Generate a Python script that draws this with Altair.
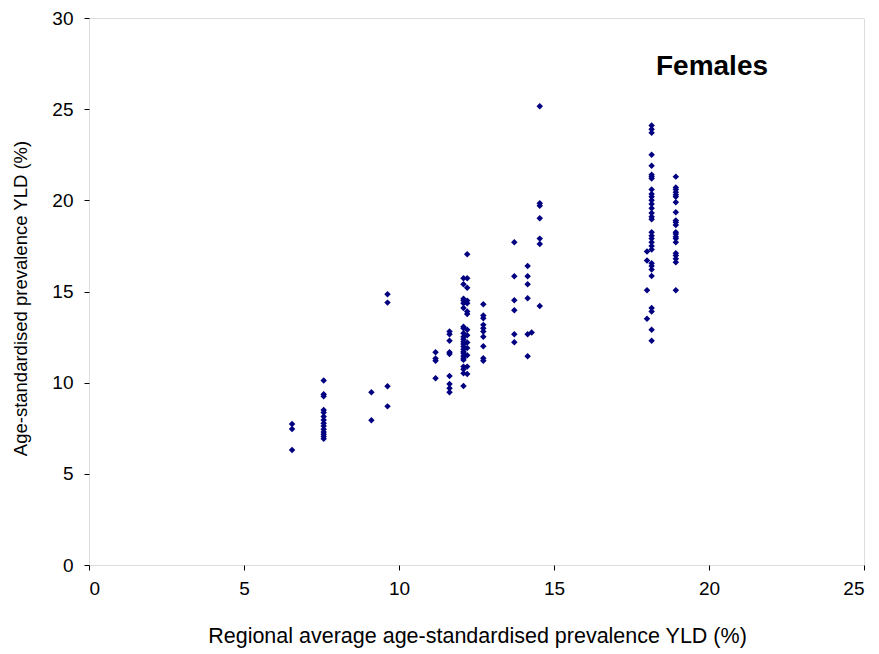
import altair as alt
import pandas as pd

# Regional average (x) for each column of countries, with their values (y)
col_x = [6.55, 7.57, 9.11, 9.63, 11.18, 11.63, 12.08, 12.20, 12.72, 13.72, 14.15, 14.28, 14.54, 18.00, 18.15, 18.93]
col_y = [
    [7.73, 7.46, 6.31],
    [10.12, 9.36, 9.25, 8.50, 8.36, 8.14, 7.95, 7.78, 7.62, 7.45, 7.30, 7.17, 7.05, 6.93],
    [9.47, 7.94],
    [14.85, 14.39, 9.80, 8.70],
    [11.67, 11.32, 11.20, 10.24],
    [12.80, 12.65, 12.30, 11.67, 11.57, 10.37, 9.93, 9.70, 9.47],
    [15.73, 15.40, 14.60, 14.50, 14.35, 14.10, 13.07, 12.98, 12.71, 12.52, 12.38, 12.25,
     12.12, 11.98, 11.83, 11.70, 11.61, 11.46, 11.34, 11.25, 10.88, 10.74, 10.52, 9.82],
    [17.04, 15.73, 15.20, 14.50, 14.35, 13.90, 13.77, 12.90, 12.60, 12.20, 11.90, 11.50, 10.88, 10.48],
    [14.30, 13.68, 13.53, 13.17, 12.98, 12.80, 12.52, 12.00, 11.34, 11.20],
    [17.70, 15.84, 14.52, 13.97, 12.66, 12.22],
    [16.40, 15.84, 15.40, 14.63, 12.66, 11.45],
    [12.75],
    [25.16, 19.84, 19.70, 19.02, 17.90, 17.60, 14.20],
    [17.20, 16.70, 15.07, 13.50],
    [24.10, 23.90, 23.70, 22.50, 21.90, 21.40, 21.30, 21.20, 20.60, 20.35, 20.20, 20.00,
     19.80, 19.57, 19.30, 19.10, 18.96, 18.25, 18.06, 17.90, 17.70, 17.50, 17.30, 16.55,
     16.40, 16.20, 15.85, 14.10, 13.90, 12.90, 12.30],
    [21.30, 20.70, 20.60, 20.45, 20.30, 20.20, 19.90, 19.35, 18.90, 18.80, 18.65, 18.25,
     18.15, 18.00, 17.90, 17.70, 17.10, 16.97, 16.80, 16.60, 15.07],
]

x_ticks = [0, 5, 10, 15, 20, 25]
y_ticks = [0, 5, 10, 15, 20, 25, 30]
panel_label = "Females"

rows = []
for cx, ys in zip(col_x, col_y):
    for yv in ys:
        rows.append({"x": cx, "y": yv})
df = pd.DataFrame(rows)

W, H = 775, 547
FONT = "Liberation Sans"

points = alt.Chart(df).mark_point(
    shape="diamond", filled=True, size=42, color="#000080", opacity=1
).encode(
    x=alt.X("x:Q", scale=alt.Scale(domain=[0, 25], nice=False, zero=False),
            axis=alt.Axis(values=x_ticks, title="Regional average age-standardised prevalence YLD (%)",
                          grid=False, domain=False, tickColor="black", tickSize=5,
                          labelPadding=9, labelFontSize=19, labelColor="black", labelFont=FONT,
                          titleFont=FONT, titleFontSize=21.5, titleFontWeight="normal", titleColor="black",
                          titleX=388, titleY=71, titleBaseline="middle", titleAlign="center")),
    y=alt.Y("y:Q", scale=alt.Scale(domain=[0, 30], nice=False, zero=False),
            axis=alt.Axis(values=y_ticks, title="Age-standardised prevalence YLD (%)",
                          grid=False, domain=False, tickColor="black", tickSize=5,
                          labelPadding=11, labelFontSize=19, labelColor="black", labelFont=FONT,
                          titleFont=FONT, titleFontSize=18.5, titleFontWeight="normal", titleColor="black",
                          titleX=-69, titleY=280, titleBaseline="middle", titleAlign="center",
                          titleAngle=270)),
)

label = alt.Chart(pd.DataFrame({"t": [panel_label]})).mark_text(
    font=FONT, fontSize=28, fontWeight="bold", color="black", align="center", baseline="middle"
).encode(text="t:N", x=alt.value(623), y=alt.value(49))

chart = (points + label).properties(
    width=W, height=H,
    autosize=alt.AutoSizeParams(type="none"),
    padding={"left": 89, "top": 18, "right": 15, "bottom": 89},
).configure_view(stroke="black", strokeWidth=1.5).configure(background="white")

chart.save("out.html", embed_options={"renderer": "svg", "actions": False})
